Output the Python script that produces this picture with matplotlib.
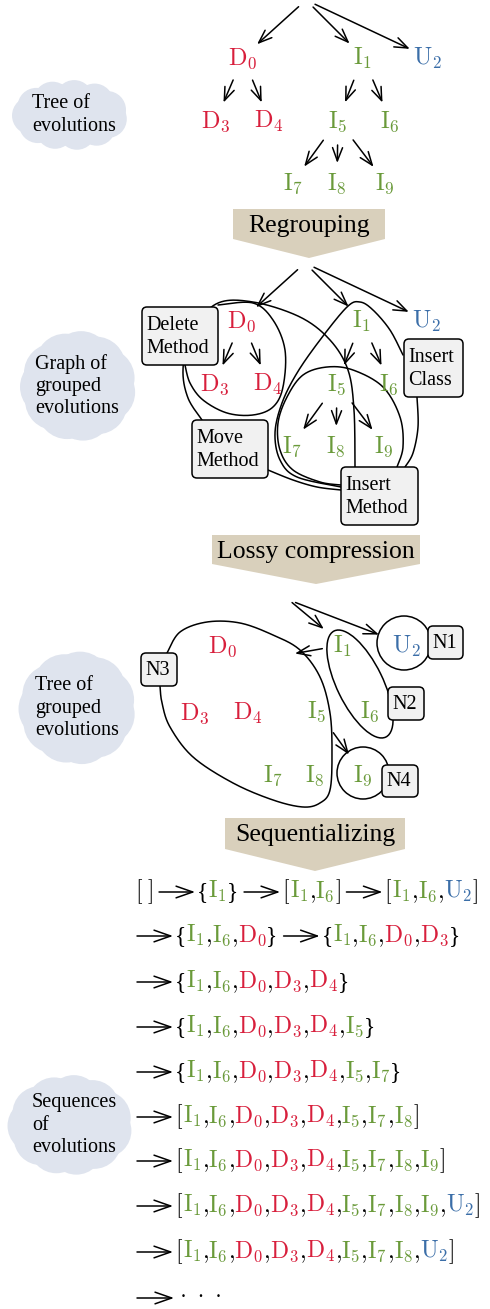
import numpy as np
import matplotlib
matplotlib.use('Agg')
import matplotlib.pyplot as plt
from matplotlib.patches import FancyArrowPatch, FancyBboxPatch, Polygon, Circle, Ellipse

plt.rcParams['mathtext.fontset'] = 'cm'
plt.rcParams['font.family'] = ['Liberation Serif', 'DejaVu Serif']

# ---- data ----
tree_edges = [('root', 'D0'), ('root', 'I1'), ('root', 'U2'),
              ('D0', 'D3'), ('D0', 'D4'), ('I1', 'I5'), ('I1', 'I6'),
              ('I5', 'I7'), ('I5', 'I8'), ('I5', 'I9')]
nodes = ['D0', 'I1', 'U2', 'D3', 'D4', 'I5', 'I6', 'I7', 'I8', 'I9']
groups = ['Delete\nMethod', 'Insert\nClass', 'Move\nMethod', 'Insert\nMethod']
lossy_groups = ['N1', 'N2', 'N3', 'N4']
lossy_edges = [('root', 'I1'), ('root', 'U2'), ('I1', 'N3'), ('I5', 'I9')]
banners = ['Regrouping', 'Lossy compression', 'Sequentializing']
clouds = ['Tree of\nevolutions', 'Graph of\ngrouped\nevolutions',
          'Tree of\ngrouped\nevolutions', 'Sequences\nof\nevolutions']

base = ['I1', 'I6', 'D0', 'D3', 'D4', 'I5', 'I7', 'I8']
seq_steps = [('[', []), ('{', ['I1']), ('[', ['I1', 'I6']), ('[', ['I1', 'I6', 'U2']),
             ('{', ['I1', 'I6', 'D0']), ('{', ['I1', 'I6', 'D0', 'D3']),
             ('{', base[:5]), ('{', base[:6]), ('{', base[:7]), ('[', base),
             ('[', base + ['I9']), ('[', base + ['I9', 'U2']), ('[', base + ['U2'])]
steps_per_row = [4, 2, 1, 1, 1, 1, 1, 1, 1]

COL = {'D': '#d81f3c', 'I': '#6a9a3a', 'U': '#3b6ea8'}
CLOUD = '#dfe4ee'
BANNER = '#d9d0bc'
BOXFC = '#f1f1f1'

# ---- layout (pixel coordinates) ----
tree_pos = {'root': (306, 0), 'D0': (243, 65), 'I1': (363, 65), 'U2': (427, 65),
            'D3': (216, 128), 'D4': (269, 128), 'I5': (338, 128), 'I6': (390, 128),
            'I7': (293, 190), 'I8': (337, 190), 'I9': (385, 190)}
lossy_pos = {'root': (289, 600), 'D0': (223, 653), 'I1': (343, 653), 'U2': (406, 653),
             'D3': (195, 720), 'D4': (248, 720), 'I5': (317, 718), 'I6': (370, 718),
             'I7': (273, 782), 'I8': (315, 782), 'I9': (363, 782), 'N3': (292, 654)}
LFS = 17.5
SFS = 17
LW = 1.1

fig = plt.figure(figsize=(4.9, 13.09), dpi=100)
ax = fig.add_axes([0, 0, 1, 1])
ax.set_xlim(0, 490)
ax.set_ylim(1309, 0)
ax.axis('off')
rend = fig.canvas.get_renderer()


def lab(n):
    return r'$\mathrm{%s}_{%s}$' % (n[0], n[1:])


def arrow(p, q, sa=0, sb=0, hl=0.95, hw=0.36):
    ax.add_patch(FancyArrowPatch(p, q, arrowstyle='->,head_length=%s,head_width=%s' % (hl, hw),
                                 mutation_scale=10, shrinkA=sa * 0.72, shrinkB=sb * 0.72,
                                 lw=LW, color='k', zorder=2))


def smooth(pts, n=24):
    p = np.array(pts, float)
    p = np.vstack([p[0], p, p[-1]])
    out = []
    t = np.linspace(0, 1, n, endpoint=False)[:, None]
    for i in range(1, len(p) - 2):
        p0, p1, p2, p3 = p[i - 1], p[i], p[i + 1], p[i + 2]
        out.append(0.5 * (2 * p1 + (-p0 + p2) * t + (2 * p0 - 5 * p1 + 4 * p2 - p3) * t ** 2
                          + (-p0 + 3 * p1 - 3 * p2 + p3) * t ** 3))
    out.append(p[-2][None])
    return np.vstack(out)


def curve(pts):
    c = smooth(pts)
    ax.plot(c[:, 0], c[:, 1], color='k', lw=LW, zorder=1, solid_capstyle='round')


def box(x0, y0, x1, y1, txt):
    ax.add_patch(FancyBboxPatch((x0, y0), x1 - x0, y1 - y0,
                                boxstyle='round,pad=0,rounding_size=5',
                                fc=BOXFC, ec='k', lw=1.1, zorder=3))
    ax.text(x0 + 4, (y0 + y1) / 2 + 1, txt, ha='left', va='center', fontsize=14.5,
            linespacing=1.22, zorder=4)


def cloud(cx, cy, w, h, txt, tx):
    r = min(w, h) * 0.27
    ax.add_patch(Ellipse((cx, cy), w - r, h - r * 0.5, fc=CLOUD, ec='none', zorder=0))
    n = 11
    for k in range(n):
        a = 2 * np.pi * k / n + 0.25
        ax.add_patch(Circle((cx + (w / 2 - r) * np.cos(a), cy + (h / 2 - r) * np.sin(a)),
                            r, fc=CLOUD, ec='none', zorder=0))
    ax.text(tx, cy, txt, ha='left', va='center', fontsize=14.5, linespacing=1.22, zorder=1)


def banner(x0, x1, y0, ys, yp, txt):
    xc = (x0 + x1) / 2
    ax.add_patch(Polygon([(x0, y0), (x1, y0), (x1, ys), (xc, yp), (x0, ys)],
                         closed=True, fc=BANNER, ec='none', zorder=0))
    ax.text(xc, y0 + 23, txt, ha='center', va='baseline', fontsize=18.5, zorder=1)


def tree(dx, dy):
    P = {k: (x + dx, y + dy) for k, (x, y) in tree_pos.items()}
    for n in nodes:
        ax.text(P[n][0], P[n][1], lab(n), ha='center', va='baseline', fontsize=LFS,
                color=COL[n[0]], zorder=4)
    for a, b in tree_edges:
        pa = P[a] if a == 'root' else (P[a][0], P[a][1] - 8)
        pb = (P[b][0], P[b][1] - 8)
        arrow(pa, pb, sa=10 if a == 'root' else 25, sb=19)


# section 1: tree of evolutions
tree(0, 0)
cloud(70, 115, 116, 70, clouds[0], 32)
banner(233, 385, 209, 239, 258, banners[0])

# section 2: graph of grouped evolutions
tree(-1, 263)
cloud(78, 386, 116, 110, clouds[1], 35)
curve([(218, 305), (253, 303), (273, 320), (285, 350), (283, 387), (273, 407), (253, 415),
       (227, 413), (203, 400), (190, 383), (185, 365)])
curve([(202, 420), (188, 398), (183, 370), (190, 335), (216, 304), (253, 302), (300, 317),
       (330, 340), (348, 370), (354, 410), (355, 467)])
curve([(268, 470), (293, 480), (317, 487), (341, 490)])
curve([(403, 355), (390, 330), (373, 310), (360, 302), (347, 307), (320, 340), (297, 373),
       (282, 403), (275, 433), (280, 460), (297, 477), (341, 487)])
curve([(417, 397), (418, 427), (413, 453), (405, 467)])
curve([(397, 467), (403, 447), (400, 417), (383, 387), (353, 370), (327, 367), (303, 375),
       (287, 397), (278, 423), (280, 450), (293, 470), (320, 482), (341, 485)])
box(142, 307, 218, 365, groups[0])
box(404, 339, 463, 397, groups[1])
box(192, 420, 268, 478, groups[2])
box(341, 467, 418, 525, groups[3])
banner(212, 420, 535, 564, 584, banners[1])

# section 3: tree of grouped evolutions
for n in nodes:
    x, y = lossy_pos[n]
    ax.text(x, y, lab(n), ha='center', va='baseline', fontsize=LFS, color=COL[n[0]], zorder=4)
curve([(167, 653), (180, 632), (207, 622), (240, 623), (273, 635), (300, 650), (320, 677),
       (330, 713), (332, 753), (330, 790), (320, 803), (303, 807), (273, 800), (233, 783),
       (193, 757), (170, 727), (162, 703), (160, 686)])
ax.add_patch(Circle((404, 643), 27, fc='none', ec='k', lw=LW, zorder=1))
ax.add_patch(Ellipse((360, 684), 118, 46, angle=64, fc='none', ec='k', lw=LW, zorder=1))
ax.add_patch(Circle((363, 773), 26, fc='none', ec='k', lw=LW, zorder=1))
shr = {('root', 'I1'): (4, 25), ('root', 'U2'): (7, 29), ('I1', 'N3'): (21, 3), ('I5', 'I9'): (28, 24)}
for a, b in lossy_edges:
    pa = lossy_pos[a] if a == 'root' else (lossy_pos[a][0], lossy_pos[a][1] - 8)
    pb = lossy_pos[b] if b == 'N3' else (lossy_pos[b][0], lossy_pos[b][1] - 8)
    arrow(pa, pb, sa=shr[(a, b)][0], sb=shr[(a, b)][1])
box(141, 653, 177, 686, lossy_groups[2])
box(428, 626, 463, 659, lossy_groups[0])
box(388, 687, 424, 720, lossy_groups[1])
box(382, 765, 418, 797, lossy_groups[3])
cloud(77, 708, 117, 113, clouds[2], 35)
banner(225, 405, 818, 849, 871, banners[2])

# section 4: sequences
cloud(70, 1125, 125, 100, clouds[3], 32)


def tokens(br, items):
    if not items:
        return [(r'$[\;]$', 'k')]
    op, cl = {'[': ('$[$', '$]$'), '{': ('{', '}')}[br]
    t = [(op, 'k')]
    for i, it in enumerate(items):
        if i:
            t.append(('${,}$', 'k'))
        t.append((lab(it), COL[it[0]]))
    t.append((cl, 'k'))
    return t


def put(x, y, s, c):
    t = ax.text(x, y, s, ha='left', va='baseline', fontsize=SFS, color=c, zorder=4)
    return x + t.get_window_extent(rend).width


row_y = [898, 942, 988, 1033, 1078, 1123, 1167, 1212, 1258]
k = 0
for r, cnt in enumerate(steps_per_row):
    y = row_y[r]
    x = 135 if r == 0 else 137
    for j in range(cnt):
        if r > 0 or j > 0:
            if j > 0:
                x += 6
            arrow((x, y - 6), (x + 36, y - 6), hl=1.2, hw=0.42)
            x += 38
        for s, c in tokens(*seq_steps[k]):
            x = put(x, y, s, c)
        k += 1
arrow((137, 1298), (174, 1298), hl=1.2, hw=0.42)
ax.text(180, 1303, '·  ·  ·', ha='left', va='baseline', fontsize=15)

fig.savefig('out.png', dpi=100)
